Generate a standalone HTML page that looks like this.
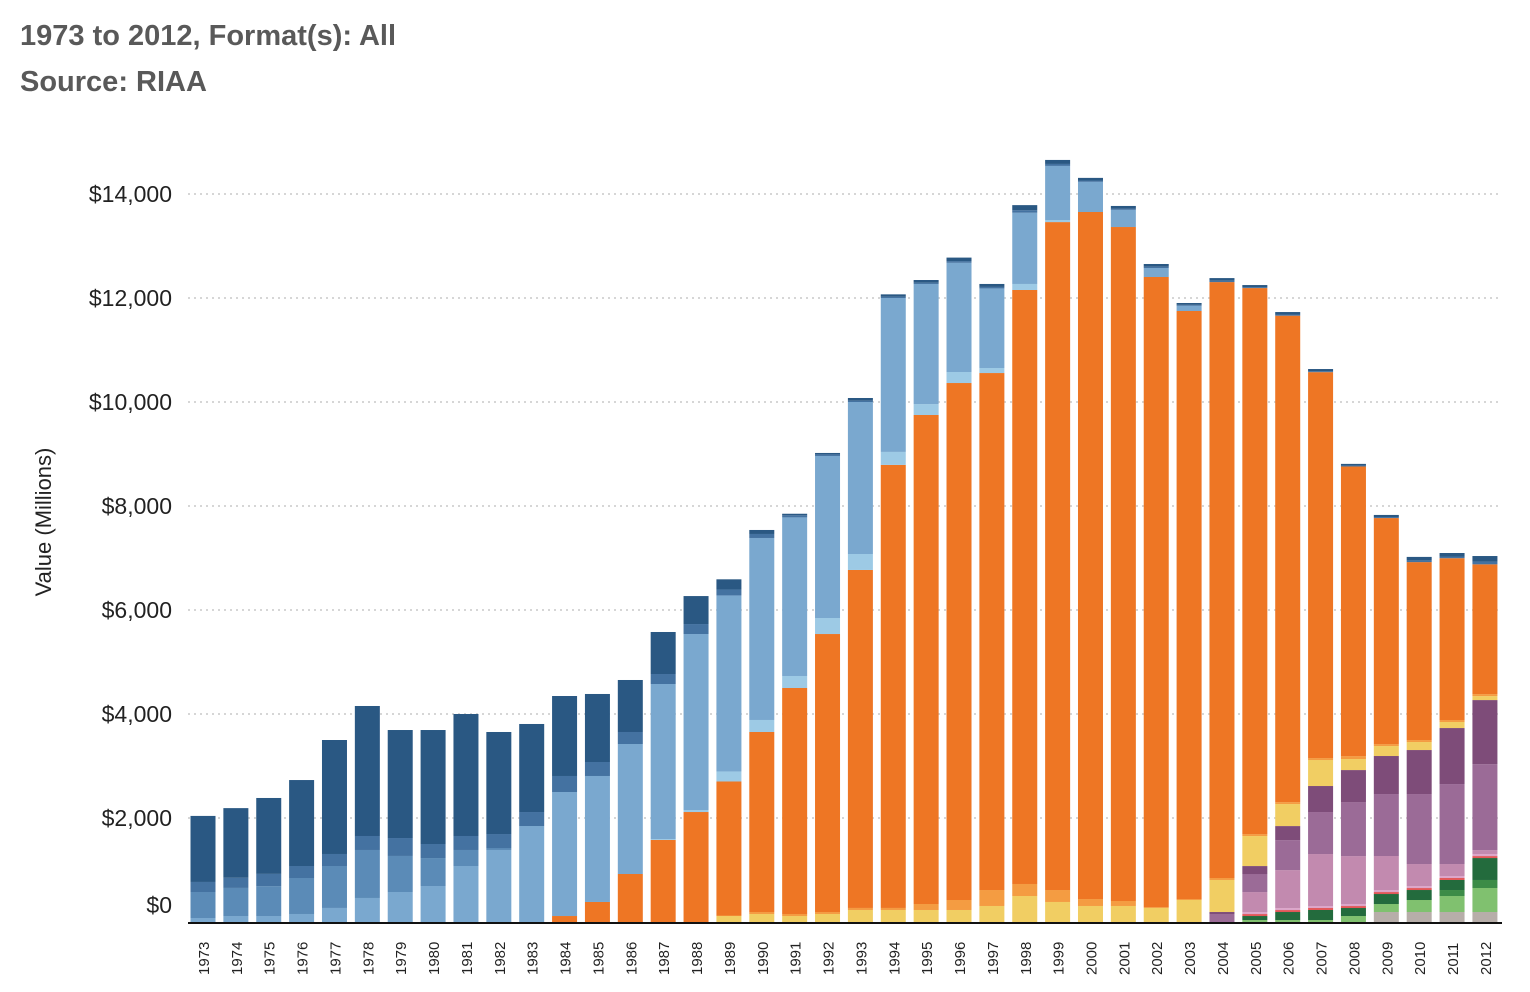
<!DOCTYPE html>
<html><head><meta charset="utf-8"><style>
html,body{margin:0;padding:0;background:#fff;}
body{width:1530px;height:992px;overflow:hidden;font-family:"Liberation Sans",sans-serif;}
.t{position:absolute;left:20px;font-weight:bold;color:#595959;font-size:29px;}
</style></head><body>
<div class="t" style="top:20px">1973 to 2012, Format(s): All</div>
<div class="t" style="top:66px">Source: RIAA</div>
<svg id="chart" width="1530" height="992" style="position:absolute;left:0;top:0"></svg>
<script>
const years = [];for(let y=1973;y<=2012;y++)years.push(String(y));
const yTicks = [0,2000,4000,6000,8000,10000,12000,14000];
const yTickLabels = ["$0","$2,000","$4,000","$6,000","$8,000","$10,000","$12,000","$14,000"];
const z=(n)=>Array(n).fill(0);
const otherVals = [...z(36),192,192,192,192];
const lightGreenVals = [...z(32),38,38,38,115,154,231,308,462];
const midGreenVals = [...z(38),115,154];
const darkGreenVals = [...z(32),77,154,193,154,192,192,193,422];
const redVals = [...z(32),38,38,38,38,38,38,38,38];
const lightPinkVals = [...z(32),38,38,38,38,38,38,38,38];
const pinkVals = [...z(32),385,730,1000,923,655,424,231,77];
const purpleVals = [...z(31),154,347,577,808,1039,1192,1346,1538,1653];
const darkPurpleVals = [...z(31),38,153,270,500,615,731,846,1077,1232];
const videoVals = [...z(16),115,154,115,154,231,231,231,231,308,500,385,308,308,270,423,616,577,423,500,212,192,154,116,76];
const cdSingleVals = [...z(16),10,38,39,38,39,39,115,192,307,231,230,134,96,18,19,38,38,38,38,57,38,38,38,39];
const cdVals = [...z(11),115,385,923,1577,2115,2577,3462,4346,5346,6500,8520,9404,9942,9942,11423,12845,13212,12961,12116,11308,11460,10500,9354,7421,5569,4346,3422,3112,2495];
const cassSingleVals = [...z(14),15,39,193,231,231,308,307,250,210,212,97,116,40,...z(13)];
const cassetteVals = [77,115,115,154,270,462,577,692,1077,1385,1846,2385,2423,2500,2985,3384,3385,3500,3050,3116,2923,2960,2310,2100,1530,1370,1040,580,330,173,100,0,0,0,0,0,0,0,0,0];
const eightTrackVals = [500,540,575,692,807,923,693,538,308,38,...z(30)];
const singlesVals = [193,195,235,231,231,269,345,270,269,269,269,308,269,231,192,192,115,77,40,30,25,23,25,33,29,49,38,25,25,26,18,26,19,23,20,17,20,33,33,53];
const lpVals = [1270,1340,1460,1653,2192,2500,2077,2192,2346,1962,1693,1538,1308,1000,808,538,195,77,30,28,52,47,51,67,57,97,77,51,50,51,36,51,39,47,40,33,40,67,67,107];
const seriesList = [
 [otherVals,"#b7aea9","other"],[lightGreenVals,"#80c16f","paid-subscription"],[midGreenVals,"#3c8c47","on-demand-streaming"],
 [darkGreenVals,"#236b3d","soundexchange"],[redVals,"#e15759","ringtones-red"],[lightPinkVals,"#dca5c9","kiosk"],
 [pinkVals,"#c28aaf","ringtones"],[purpleVals,"#9b6b97","download-album"],[darkPurpleVals,"#7e4c79","download-single"],
 [videoVals,"#f1ce63","music-video"],[cdSingleVals,"#f49c42","cd-single"],[cdVals,"#ee7624","cd"],
 [cassSingleVals,"#9dcae5","cassette-single"],[cassetteVals,"#7aa8cf","cassette"],[eightTrackVals,"#5b8bb7","8-track"],
 [singlesVals,"#4472a1","vinyl-single"],[lpVals,"#2a5883","lp-ep"]];
const NS="http://www.w3.org/2000/svg";
const svg=document.getElementById('chart');
const X0=203, STEP=32.87, BW=25, Y0=922, PX=104/2000, L=188, R=1502;
const xS=i=>X0+i*STEP;
const yS=v=>Y0-v*PX;
function mk(tag,attrs,parent){const e=document.createElementNS(NS,tag);for(const k in attrs)e.setAttribute(k,attrs[k]);(parent||svg).appendChild(e);return e;}
yTicks.forEach((t,i)=>{
 if(t>0){const g=mk('line',{x1:L,x2:R,y1:yS(t),y2:yS(t),stroke:'#d6d6d6','stroke-width':2,'stroke-dasharray':'2,4'});
 
 }
 const tx=mk('text',{x:172,y:(t===0?yS(t)-17:yS(t))+8,'text-anchor':'end','font-size':23,fill:'#222','font-family':'Liberation Sans, sans-serif'});
 tx.textContent=yTickLabels[i];
 
 
});
years.forEach((yr,i)=>{
 let base=0;
 seriesList.forEach(s=>{
  const v=s[0][i]; if(!v)return;
  const r=mk('rect',{x:xS(i)-BW/2,y:yS(base+v),width:BW,height:v*PX,fill:s[1]});
  
  
  base+=v;
 });
 const tx=mk('text',{transform:`translate(${xS(i)+6},975) rotate(-90)`,'text-anchor':'start','font-size':15,fill:'#222','font-family':'Liberation Sans, sans-serif'});
 tx.textContent=yr;
 
 
});
const ax=mk('line',{x1:L,x2:R,y1:Y0+1,y2:Y0+1,stroke:'#111','stroke-width':2});


const yt=mk('text',{transform:'translate(51,522) rotate(-90)','text-anchor':'middle','font-size':22,fill:'#222','font-family':'Liberation Sans, sans-serif'});
yt.textContent='Value (Millions)';


</script>
</body></html>
